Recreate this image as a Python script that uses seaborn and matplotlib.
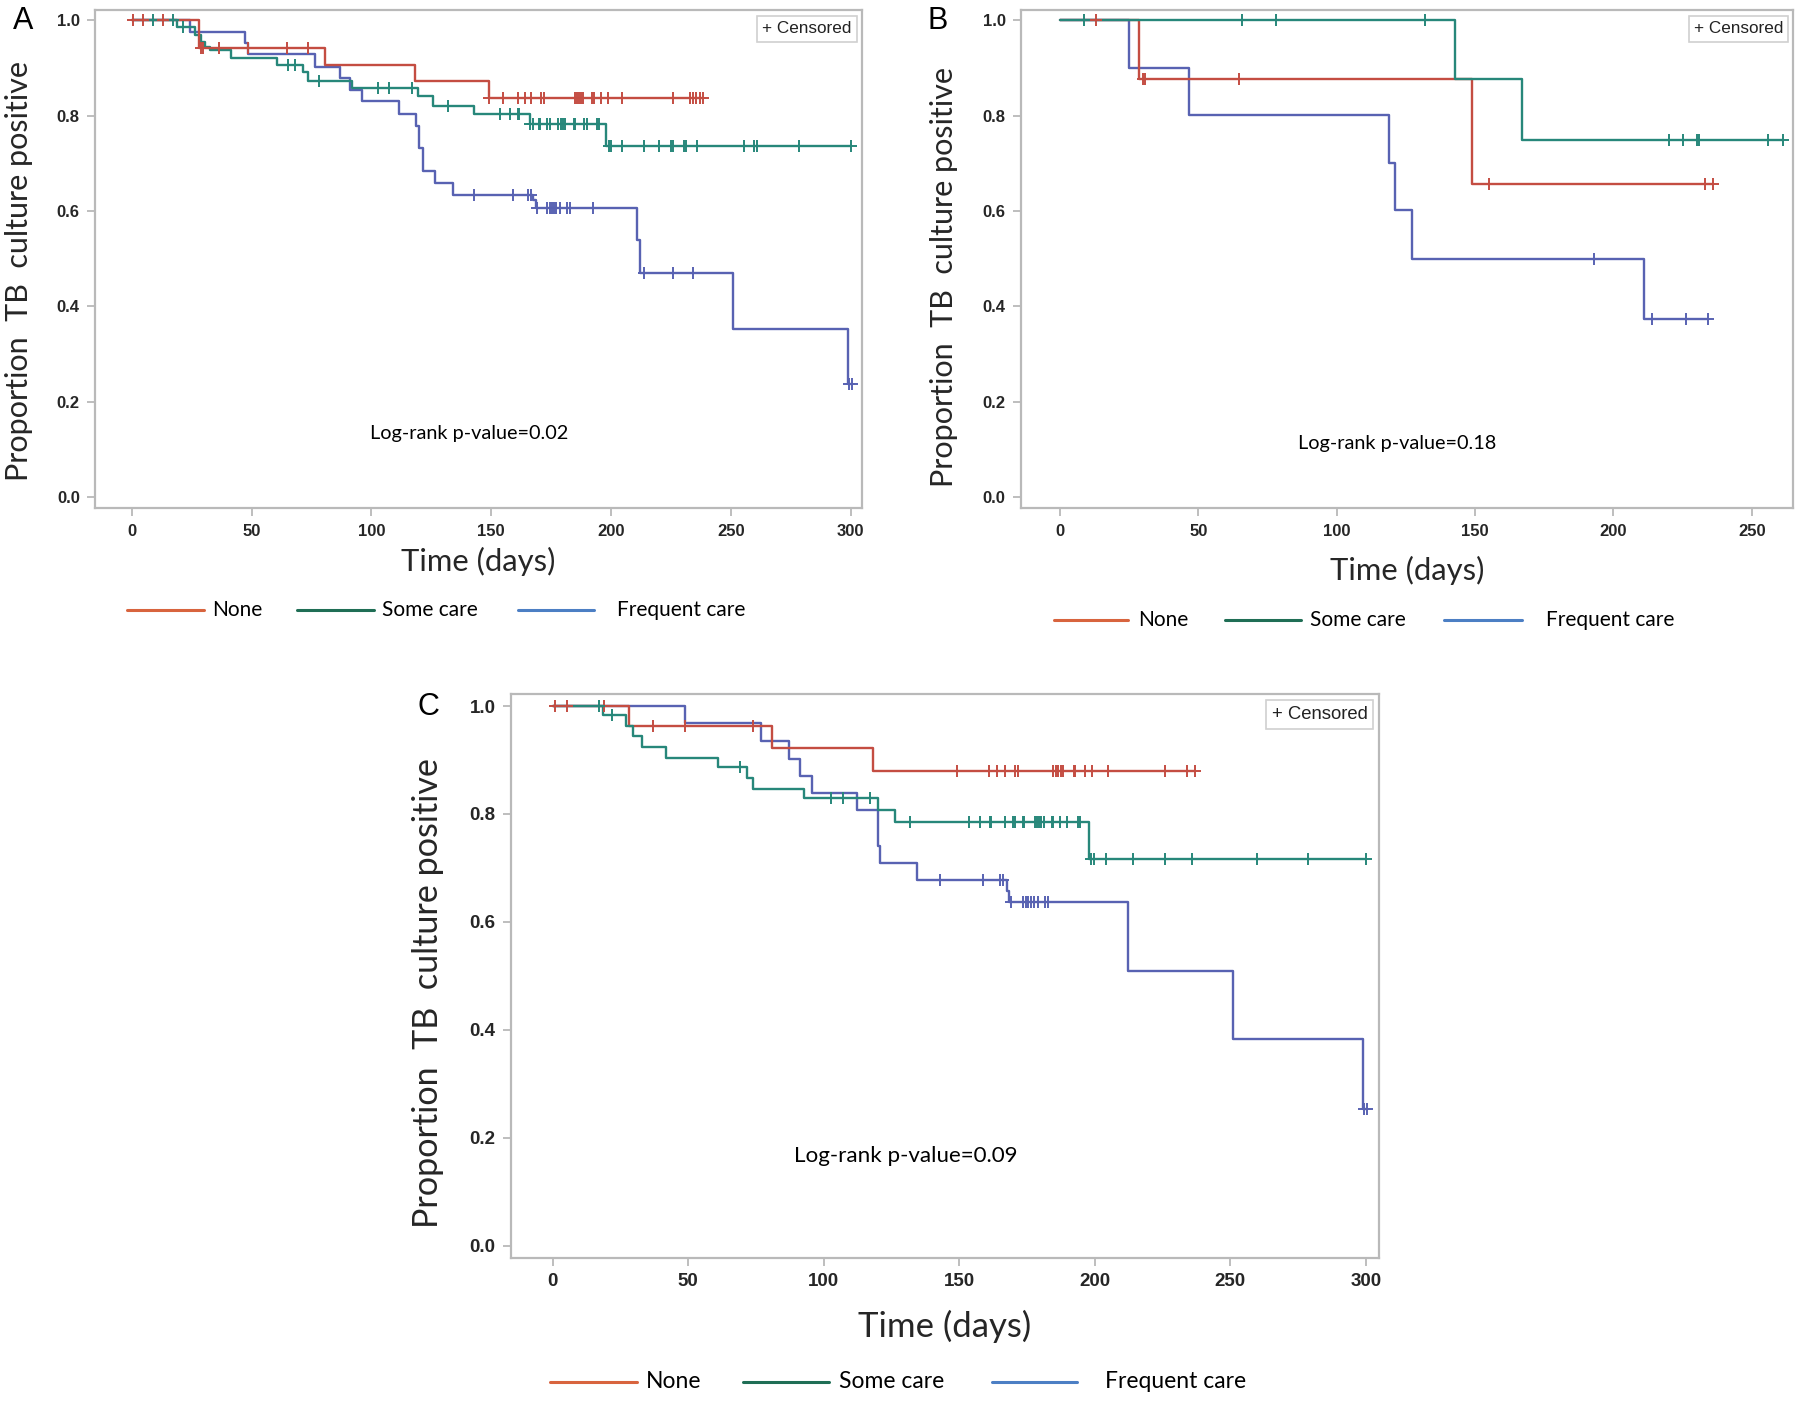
import numpy as np
import matplotlib
matplotlib.use("Agg")
import matplotlib.pyplot as plt
import seaborn as sns
from matplotlib import font_manager
from matplotlib.lines import Line2D
from matplotlib.ticker import FormatStrFormatter

# ---------------- data ----------------
groups = ["None", "Some care", "Frequent care"]

# Panel A
A_none_t = [28.1, 80.5, 118.1, 149.0]
A_none_s = [0.941, 0.907, 0.873, 0.837]
A_none_c = [0.6, 4.8, 13.1, 29.1, 29.8, 36.4, 48.6, 64.6, 73.6, 149.0, 154.9, 161.2, 164.0,
            166.7, 170.9, 171.9, 184.8, 185.7, 186.5, 187.4, 188.2, 192.2, 192.8, 195.9,
            198.8, 204.6, 225.8, 232.9, 234.2, 235.6, 237.0, 238.4]
A_some_t = [18.7, 26.3, 29.1, 30.5, 32.6, 41.6, 60.4, 71.6, 73.6, 92.1, 119.6, 125.8, 142.8,
            166.0, 197.9]
A_some_s = [0.986, 0.969, 0.955, 0.944, 0.937, 0.921, 0.907, 0.891, 0.873, 0.857, 0.840,
            0.821, 0.803, 0.782, 0.736]
A_some_c = [9.0, 17.3, 21.4, 65.3, 68.1, 78.1, 102.6, 107.5, 117.1, 132.1, 153.7, 157.6,
            161.3, 161.7, 166.2, 167.6, 169.7, 170.4, 173.4, 174.3, 178.0, 179.0, 179.8,
            180.8, 184.3, 185.0, 188.7, 189.8, 194.0, 195.1, 198.9, 199.8, 204.4, 213.8,
            220.1, 224.9, 225.7, 230.2, 231.1, 235.7, 255.5, 259.6, 260.7, 278.5, 300.0]
A_freq_t = [24.5, 47.3, 48.6, 76.5, 86.9, 91.0, 96.0, 111.6, 118.6, 120.0, 121.4, 126.5,
            134.1, 167.5, 168.5, 210.9, 212.0, 251.0, 298.6]
A_freq_s = [0.976, 0.952, 0.929, 0.901, 0.878, 0.853, 0.830, 0.803, 0.779, 0.731, 0.683,
            0.658, 0.633, 0.623, 0.605, 0.539, 0.469, 0.352, 0.236]
A_freq_c = [142.7, 158.9, 165.3, 166.4, 169.0, 173.1, 174.3, 175.3, 176.2, 177.2, 178.8,
            181.6, 182.7, 192.5, 213.8, 225.9, 234.0, 299.3, 300.3]

# Panel B
B_none_t = [28.7, 149.0]
B_none_s = [0.876, 0.657]
B_none_c = [13.0, 29.9, 30.8, 64.7, 154.9, 233.1, 236.1]
B_some_t = [142.9, 166.9]
B_some_s = [0.876, 0.749]
B_some_c = [8.8, 65.7, 78.1, 131.9, 220.2, 225.1, 230.1, 231.0, 256.0, 261.1]
B_freq_t = [24.9, 46.8, 119.0, 120.9, 127.1, 211.2]
B_freq_s = [0.899, 0.801, 0.700, 0.601, 0.499, 0.374]
B_freq_c = [192.8, 214.1, 226.2, 234.1]

# Panel C
C_none_t = [28.1, 81.0, 118.3]
C_none_s = [0.963, 0.922, 0.880]
C_none_c = [0.9, 5.2, 19.0, 36.8, 48.8, 74.0, 149.1, 161.0, 164.0, 166.8, 170.6, 171.6,
            184.6, 185.5, 186.5, 187.4, 188.2, 192.3, 192.7, 196.2, 198.9, 204.9, 226.0,
            234.0, 236.9]
C_some_t = [18.7, 26.9, 29.7, 32.8, 41.7, 60.9, 71.5, 74.0, 92.8, 119.9, 126.2, 197.8]
C_some_s = [0.984, 0.963, 0.945, 0.925, 0.904, 0.887, 0.867, 0.847, 0.830, 0.808, 0.786,
            0.717]
C_some_c = [17.2, 21.8, 69.1, 102.7, 107.0, 117.0, 131.8, 153.7, 157.6, 161.2, 161.6,
            166.8, 169.9, 170.6, 173.3, 173.8, 177.8, 178.5, 179.4, 180.2, 181.1, 184.0,
            184.6, 187.1, 189.6, 193.8, 194.5, 198.6, 199.6, 204.2, 213.9, 225.8, 235.7,
            259.9, 278.7, 300.0]
C_freq_t = [48.8, 76.8, 87.2, 91.2, 95.8, 112.1, 119.9, 120.7, 134.2, 167.6, 168.4, 212.1,
            251.0, 299.0]
C_freq_s = [0.968, 0.936, 0.901, 0.870, 0.838, 0.807, 0.741, 0.710, 0.678, 0.657, 0.637,
            0.509, 0.383, 0.253]
C_freq_c = [142.8, 158.8, 165.1, 166.0, 169.0, 173.3, 174.6, 175.4, 176.4, 177.5, 179.1,
            181.6, 182.8, 299.4, 300.2]

p_values = ["0.02", "0.18", "0.09"]
panel_letters = ["A", "B", "C"]
y_ticks = [0.0, 0.2, 0.4, 0.6, 0.8, 1.0]
x_ticks_AC = [0, 50, 100, 150, 200, 250, 300]
x_ticks_B = [0, 50, 100, 150, 200, 250]

# ---------------- style ----------------
sns.set_theme(style="white")
installed = {f.name for f in font_manager.fontManager.ttflist}
narrow = "Liberation Sans Narrow" if "Liberation Sans Narrow" in installed else "Liberation Sans"
plt.rcParams["font.family"] = ["Lato", "DejaVu Sans"]

curve_colors = {"None": "#c44d42", "Some care": "#27877a", "Frequent care": "#5862b2"}
legend_colors = {"None": "#d8643e", "Some care": "#1f6e55", "Frequent care": "#4c7fc4"}
spine_col = "#b9b9b9"

W, H = 1800, 1401
fig = plt.figure(figsize=(18, 14.01), dpi=100)


def fx(px):
    return px / W


def fy(py):
    return 1 - py / H


def km_steps(events, surv, censors):
    t = [0.0] + list(events)
    s = [1.0] + list(surv)
    end = max(max(censors), t[-1])
    t.append(end)
    s.append(s[-1])
    return t, s


def level_at(events, surv, times):
    idx = np.searchsorted(np.asarray(events), np.asarray(times), side="right")
    lv = np.concatenate([[1.0], surv])
    return lv[idx]


def draw_panel(ax, data, order, xlim, ylim, xticks, fs_tick, fs_lab, fs_ylab, fs_p, pval,
               ylab_xy, xlab_y, p_xy, box_xy, fs_box):
    for g in order:
        ev, sv, cs = data[g]
        t, s = km_steps(ev, sv, cs)
        sns.lineplot(x=t, y=s, ax=ax, color=curve_colors[g], lw=1.7,
                     drawstyle="steps-post", estimator=None, sort=False, legend=False)
        sns.scatterplot(x=cs, y=level_at(ev, sv, cs), ax=ax, marker="+", s=70,
                        color=curve_colors[g], linewidth=1.4, legend=False, zorder=3)
    ax.set_xlim(*xlim)
    ax.set_ylim(*ylim)
    ax.set_xticks(xticks)
    ax.set_yticks(y_ticks)
    ax.yaxis.set_major_formatter(FormatStrFormatter("%.1f"))
    for sp in ax.spines.values():
        sp.set_visible(True)
        sp.set_color(spine_col)
        sp.set_linewidth(1.6)
    ax.tick_params(axis="both", direction="out", length=6, width=1.3, color=spine_col,
                   labelsize=fs_tick, pad=5, left=True, bottom=True)
    for lab in ax.get_xticklabels() + ax.get_yticklabels():
        lab.set_fontfamily([narrow, "DejaVu Sans"])
        lab.set_fontweight("bold")
    ax.set_xlabel("Time (days)", fontsize=fs_lab, va="center")
    ax.xaxis.set_label_coords(0.5, xlab_y)
    ax.set_ylabel("Proportion  TB  culture positive", fontsize=fs_ylab, va="center")
    ax.yaxis.set_label_coords(*ylab_xy)
    ax.text(p_xy[0], p_xy[1], f"Log-rank p-value={pval}", transform=ax.transAxes,
            ha="center", va="center", fontsize=fs_p, color="black")
    ax.text(box_xy[0], box_xy[1], "+ Censored", transform=ax.transAxes, ha="right",
            va="top", fontsize=fs_box, family=["Liberation Sans", "DejaVu Sans"],
            color="#222222",
            bbox=dict(boxstyle="square,pad=0.3", fc="white", ec="#d0d0d0", lw=1.2))


def draw_legend(y, line_x, text_x, fs):
    for g, (x0, x1), tx in zip(groups, line_x, text_x):
        fig.add_artist(Line2D([fx(x0), fx(x1)], [fy(y), fy(y)], color=legend_colors[g],
                              lw=2.2, transform=fig.transFigure))
        fig.text(fx(tx), fy(y), g, ha="left", va="center", fontsize=fs, color="black")


# Panel A
axA = fig.add_axes([0.0528, 0.6372, 0.4259, 0.3557])
draw_panel(axA,
           {"None": (A_none_t, A_none_s, A_none_c),
            "Some care": (A_some_t, A_some_s, A_some_c),
            "Frequent care": (A_freq_t, A_freq_s, A_freq_c)},
           ["Frequent care", "Some care", "None"],
           (-15.3, 304.5), (-0.024, 1.0216), x_ticks_AC, 12, 22.3, 22, 14.3, p_values[0],
           (-0.099, 0.476), -0.106, (0.4885, 0.151), (0.987, 0.977), 12.3)
draw_legend(610, [(127, 204), (297, 374), (518, 594)], [212, 382, 617], 15)

# Panel B
axB = fig.add_axes([0.5672, 0.6372, 0.4291, 0.3557])
draw_panel(axB,
           {"None": (B_none_t, B_none_s, B_none_c),
            "Some care": (B_some_t, B_some_s, B_some_c),
            "Frequent care": (B_freq_t, B_freq_s, B_freq_c)},
           ["Frequent care", "None", "Some care"],
           (-14.1, 265.0), (-0.024, 1.0216), x_ticks_B, 12, 22.3, 22, 14.3, p_values[1],
           (-0.0997, 0.465), -0.125, (0.4865, 0.131), (0.987, 0.977), 12.3)
draw_legend(620, [(1054, 1128), (1225, 1301), (1444, 1522)], [1138, 1310, 1546], 15)

# Panel C
axC = fig.add_axes([0.2839, 0.1021, 0.4822, 0.4024])
draw_panel(axC,
           {"None": (C_none_t, C_none_s, C_none_c),
            "Some care": (C_some_t, C_some_s, C_some_c),
            "Frequent care": (C_freq_t, C_freq_s, C_freq_c)},
           ["Frequent care", "None", "Some care"],
           (-15.4, 304.8), (-0.023, 1.022), x_ticks_AC, 13.5, 25, 24.6, 16.1, p_values[2],
           (-0.0956, 0.470), -0.121, (0.455, 0.180), (0.987, 0.979), 13.3)
draw_legend(1381.7, [(550, 637), (743, 829), (992, 1077)], [645.5, 838.8, 1104.7], 16.5)

# panel letters
for letter, (px, py) in zip(panel_letters, [(23, 21), (937.5, 21), (428, 707)]):
    fig.text(fx(px), fy(py), letter, ha="center", va="center", fontsize=22,
             family=["Liberation Sans", "DejaVu Sans"], color="black")

fig.savefig("out.png", dpi=100, facecolor="white")
